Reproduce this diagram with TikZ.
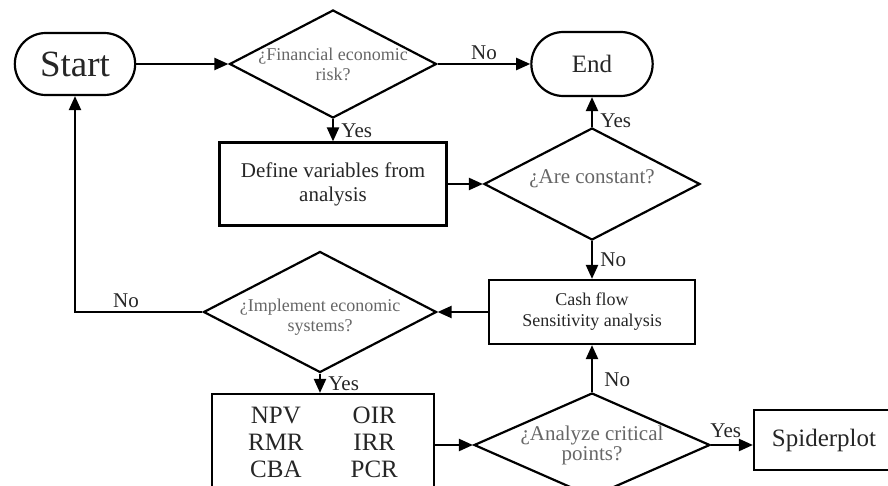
\documentclass[tikz,border=0pt]{standalone}
\usepackage{fontspec}
\setmainfont{Liberation Serif}
\usetikzlibrary{shapes.geometric,shapes.misc,arrows.meta}
\begin{document}
\begin{tikzpicture}[x=1pt,y=-1pt,->,>={Triangle[length=14pt,width=12pt]},line width=2.2pt]
        \tikzstyle{terminal}=[rounded rectangle,draw=black,text=black!85]
        \tikzstyle{process}=[rectangle,draw=black,text=black!85,align=center]
        \tikzstyle{decision}=[diamond,draw=black,inner sep=0pt]
        \tikzstyle{ask}=[text=black!60,align=center,font=\fontsize{18}{20}\selectfont]
        \tikzstyle{answer}=[text=black!85,font=\fontsize{21}{23}\selectfont]
        \tikzstyle{edge}=[draw]
        \useasboundingbox (0,0) rectangle (888,486);
        \clip (0,0) rectangle (888,486);
       \begin{scope}
         \node [terminal,minimum width=127pt,minimum height=62pt,font=\fontsize{37}{40}\selectfont] (start) at (75,64) {Start};
         \node [decision,minimum width=207pt,minimum height=108pt,label={[ask]center:{¿Financial economic\\risk?}}] (risk) at (333,64) {};
         \node [terminal,minimum width=128pt,minimum height=64pt,font=\fontsize{25}{28}\selectfont] (end) at (592,64) {End};
         \node [process,minimum width=227pt,minimum height=83pt,font=\fontsize{21}{24}\selectfont] (define) at (333,184) {Define variables from\\analysis};
         \node [decision,minimum width=216pt,minimum height=112pt,label={[ask,font=\fontsize{21}{24}\selectfont,yshift=5pt]center:{¿Are constant?}}] (constant) at (592,184) {};
         \node [process,minimum width=206pt,minimum height=64pt,font=\fontsize{18}{21}\selectfont] (cashflow) at (592,312) {Cash flow\\Sensitivity analysis};
         \node [decision,minimum width=233pt,minimum height=121pt,label={[ask,yshift=-5pt]center:{¿Implement economic\\systems?}}] (implement) at (320,312) {};
         \node [process,minimum width=222pt,minimum height=102pt,font=\fontsize{25}{27}\selectfont] (methods) at (323,445) {\begin{tabular}{c@{\hspace{47pt}}c}NPV & OIR\\RMR & IRR\\CBA & PCR\end{tabular}};
         \node [decision,minimum width=236pt,minimum height=104pt,label={[ask,font=\fontsize{21}{20}\selectfont]center:{¿Analyze critical\\points?}}] (critical) at (592,445) {};
         \node [process,minimum width=140pt,minimum height=60pt,font=\fontsize{25}{28}\selectfont] (spider) at (824,440) {Spiderplot};
         \path[edge] (start.east) -- (risk.west);
         \path[edge] (risk.east) -- node[answer,above] {No} (end.west);
         \path[edge] (risk.south) -- node[answer,right,xshift=4pt] {Yes} (define.north);
         \path[edge] (define.east) -- (constant.west);
         \path[edge] (constant.north) -- node[answer,right,pos=0.2,xshift=4pt] {Yes} (end.south);
         \path[edge] (constant.south) -- node[answer,right,xshift=4pt] {No} (cashflow.north);
         \path[edge] (cashflow.west) -- (implement.east);
         \path[edge] (implement.west) -| node[answer,above,pos=0.3] {No} (start.south);
         \path[edge] (implement.south) -- node[answer,right,xshift=4pt] {Yes} (implement.south |- methods.north);
         \path[edge] (methods.east) -- (critical.west);
         \path[edge] (critical.north) -- node[answer,right,pos=0.25,xshift=8pt] {No} (cashflow.south);
         \path[edge] (critical.east) -- node[answer,above=3pt,pos=0.35] {Yes} (critical.east -| spider.west);
        \end{scope}
      \end{tikzpicture}
\end{document}
